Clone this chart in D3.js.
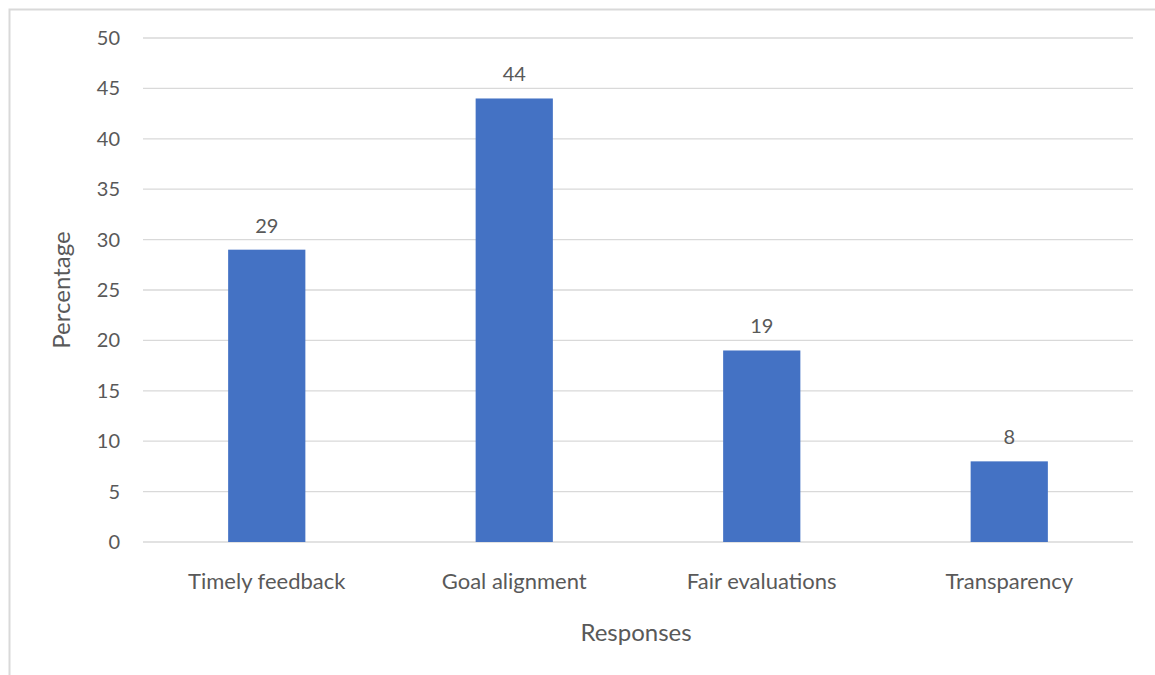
<!DOCTYPE html>
<html>
<head>
<meta charset="utf-8">
<script src="https://cdn.jsdelivr.net/npm/d3@7"></script>
<style>
  html, body { margin: 0; padding: 0; background: #fff; }
  svg { display: block; }
  text { font-family: Lato, "Open Sans", sans-serif; fill: #595959; }
</style>
</head>
<body>
<svg id="chart" width="1155" height="675"></svg>
<script>
const categories = ["Timely feedback", "Goal alignment", "Fair evaluations", "Transparency"];
const values = [29, 44, 19, 8];
const yTicks = [0, 5, 10, 15, 20, 25, 30, 35, 40, 45, 50];

const svg = d3.select("#chart");
const W = 1155, H = 675;
const m = { left: 143, right: 1133, top: 38, bottom: 542 };

// frame of the chart area
svg.append("path")
  .attr("d", `M9.5,${H} V9.5 H${W}`)
  .attr("fill", "none")
  .attr("stroke", "#d9d9d9")
  .attr("stroke-width", 2);

const x = d3.scaleBand().domain(categories).range([m.left, m.right]).paddingInner(0.688).paddingOuter(0.344);
const y = d3.scaleLinear().domain([0, 50]).range([m.bottom, m.top]);

// gridlines
svg.append("g").selectAll("line").data(yTicks).join("line")
  .attr("x1", m.left).attr("x2", m.right)
  .attr("y1", d => y(d)).attr("y2", d => y(d))
  .attr("stroke", "#d9d9d9").attr("stroke-width", 1.3);

// y tick labels
svg.append("g").selectAll("text").data(yTicks).join("text")
  .attr("x", 120).attr("y", d => y(d))
  .attr("dy", "0.35em")
  .attr("text-anchor", "end")
  .attr("font-size", 20)
  .text(d => d);

// bars
svg.append("g").selectAll("rect").data(values).join("rect")
  .attr("x", (d, i) => x(categories[i]))
  .attr("width", x.bandwidth())
  .attr("y", d => y(d))
  .attr("height", d => y(0) - y(d))
  .attr("fill", "#4472C4");

// value labels
svg.append("g").selectAll("text").data(values).join("text")
  .attr("x", (d, i) => x(categories[i]) + x.bandwidth() / 2)
  .attr("y", d => y(d) - 17)
  .attr("text-anchor", "middle")
  .attr("font-size", 20)
  .text(d => d);

// category labels
svg.append("g").selectAll("text").data(categories).join("text")
  .attr("x", d => x(d) + x.bandwidth() / 2)
  .attr("y", 589)
  .attr("text-anchor", "middle")
  .attr("font-size", 22)
  .text(d => d);

// axis titles
svg.append("text")
  .attr("x", (m.left + m.right) / 2 - 2).attr("y", 641)
  .attr("text-anchor", "middle")
  .attr("font-size", 24)
  .text("Responses");

svg.append("text")
  .attr("transform", `translate(70,${(m.top + m.bottom) / 2}) rotate(-90)`)
  .attr("text-anchor", "middle")
  .attr("font-size", 24)
  .text("Percentage");
</script>
</body>
</html>
